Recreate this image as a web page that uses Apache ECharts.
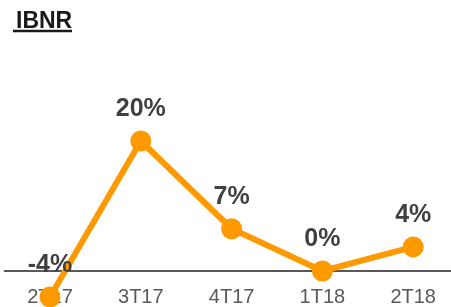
<!DOCTYPE html>
<html>
<head>
<meta charset="utf-8">
<script src="https://cdn.jsdelivr.net/npm/echarts@6/dist/echarts.min.js"></script>
<style>
  html, body { margin: 0; padding: 0; background: #fff; }
  #main { width: 451px; height: 307px; }
</style>
</head>
<body>
<div id="main"></div>
<script>
// quarters and IBNR change (%)
var quarters = ['2T17', '3T17', '4T17', '1T18', '2T18'];
var ibnr = [-4, 20, 6.5, 0, 3.7];

var chart = echarts.init(document.getElementById('main'), null, { renderer: 'canvas' });

var font = '"Liberation Sans", Arial, sans-serif';

var option = {
  animation: false,
  title: {
    text: 'IBNR',
    left: 11,
    top: 5,
    textStyle: {
      fontFamily: font,
      fontSize: 23,
      fontWeight: 'bold',
      color: '#1a1a1a'
    }
  },
  graphic: [{
    type: 'line',
    shape: { x1: 13, y1: 31, x2: 72, y2: 31 },
    style: { stroke: '#1a1a1a', lineWidth: 2.5 }
  }],
  grid: {
    left: 4.6,
    width: 454,
    top: 115,
    height: 169,
    outerBoundsMode: 'none'
  },
  xAxis: [{
    // zero line
    type: 'category',
    data: quarters,
    position: 'bottom',
    axisLine: { show: true, onZero: true, lineStyle: { color: '#595959', width: 2 } },
    axisTick: { show: false },
    axisLabel: { show: false },
    splitLine: { show: false }
  }, {
    // bottom labels
    type: 'category',
    data: quarters,
    position: 'bottom',
    axisLine: { show: false, onZero: false },
    axisTick: { show: false },
    axisLabel: {
      margin: 3,
      fontFamily: font,
      fontSize: 20,
      color: '#595959'
    },
    splitLine: { show: false }
  }],
  yAxis: {
    type: 'value',
    min: -2,
    max: 24,
    show: false
  },
  series: [{
    type: 'line',
    data: ibnr,
    xAxisIndex: 0,
    clip: false,
    symbol: 'circle',
    symbolSize: 21,
    showAllSymbol: true,
    lineStyle: { color: '#ff9900', width: 6 },
    itemStyle: { color: '#ff9900' },
    label: {
      show: true,
      position: 'top',
      distance: 9,
      fontFamily: font,
      fontSize: 25,
      fontWeight: 'bold',
      color: '#404040',
      formatter: function (p) { return Math.round(p.value) + '%'; }
    },
    z: 3
  }]
};

chart.setOption(option);
</script>
</body>
</html>
